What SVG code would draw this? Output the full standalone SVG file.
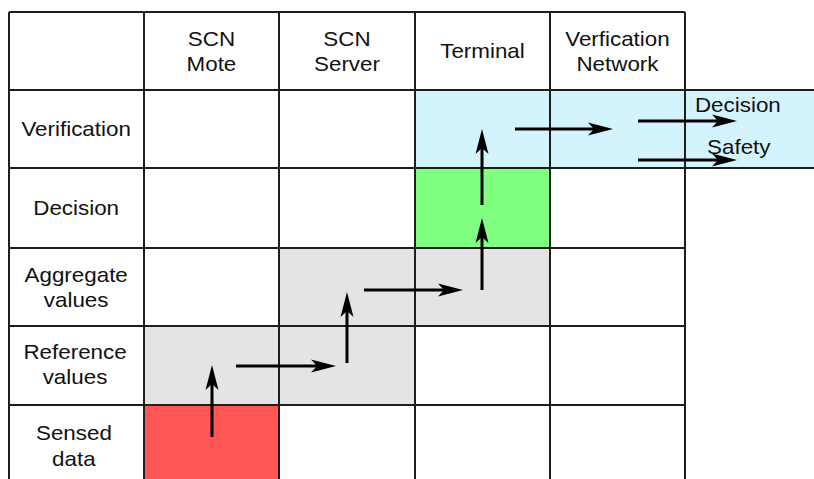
<svg xmlns="http://www.w3.org/2000/svg" width="814" height="479" viewBox="0 0 814 479">
<style>
.t{font-family:"Liberation Sans",Arial,Helvetica,sans-serif;font-size:20px;fill:#111;text-anchor:middle}
.s{text-anchor:start}
.g{stroke:#1e1e1e;stroke-width:2;fill:none}
.a{stroke:#000;stroke-width:3;fill:none;marker-end:url(#ah)}
</style>
<defs>
<marker id="ah" viewBox="-26 -8 27 16" refX="-19" refY="0" markerWidth="27" markerHeight="16" orient="auto" markerUnits="userSpaceOnUse">
<path d="M0,0 L-25,-6.5 L-19,0 L-25,6.5 Z" fill="#000"/>
</marker>
</defs>
<rect width="814" height="479" fill="#fff"/>
<g id="fills">
<rect id="verif-band" x="415" y="90" width="399" height="78" fill="#d4f4fd"/>
<rect id="decision-cell" x="415" y="168" width="135" height="80" fill="#80ff80"/>
<rect id="aggregate-cells" x="279" y="248" width="271" height="78" fill="#e4e4e4"/>
<rect id="reference-cells" x="144" y="326" width="271" height="79" fill="#e4e4e4"/>
<rect id="sensed-cell" x="144" y="405" width="135" height="80" fill="#ff5555"/>
</g>
<g id="grid" class="g">
<line x1="9" y1="12" x2="9" y2="479"/>
<line x1="144" y1="12" x2="144" y2="479"/>
<line x1="279" y1="12" x2="279" y2="479"/>
<line x1="415" y1="12" x2="415" y2="479"/>
<line x1="550" y1="12" x2="550" y2="479"/>
<line x1="685" y1="12" x2="685" y2="479"/>
<line x1="9" y1="12" x2="685" y2="12"/>
<line x1="9" y1="90" x2="814" y2="90"/>
<line x1="9" y1="168" x2="814" y2="168"/>
<line x1="9" y1="248" x2="685" y2="248"/>
<line x1="9" y1="326" x2="685" y2="326"/>
<line x1="9" y1="405" x2="685" y2="405"/>
</g>
<g id="col-headers">
<g id="h-mote"><text class="t" transform="scale(1.12 1)" x="188.8" y="46">SCN</text><text class="t" transform="scale(1.12 1)" x="188.8" y="71">Mote</text></g>
<g id="h-server"><text class="t" transform="scale(1.12 1)" x="309.8" y="46">SCN</text><text class="t" transform="scale(1.12 1)" x="309.8" y="71">Server</text></g>
<g id="h-terminal"><text class="t" transform="scale(1.12 1)" x="430.8" y="58">Terminal</text></g>
<g id="h-vnet"><text class="t" transform="scale(1.12 1)" x="551.3" y="46">Verfication</text><text class="t" transform="scale(1.12 1)" x="551.3" y="71">Network</text></g>
</g>
<g id="row-headers">
<g id="r-verif"><text class="t" transform="scale(1.12 1)" x="68" y="136">Verification</text></g>
<g id="r-decision"><text class="t" transform="scale(1.12 1)" x="68" y="215">Decision</text></g>
<g id="r-aggregate"><text class="t" transform="scale(1.12 1)" x="68" y="282">Aggregate</text><text class="t" transform="scale(1.12 1)" x="68" y="307">values</text></g>
<g id="r-reference"><text class="t" transform="scale(1.12 1)" x="67" y="359">Reference</text><text class="t" transform="scale(1.12 1)" x="67" y="384">values</text></g>
<g id="r-sensed"><text class="t" transform="scale(1.12 1)" x="66" y="440">Sensed</text><text class="t" transform="scale(1.12 1)" x="66" y="466">data</text></g>
</g>
<g id="outputs">
<g id="o-decision"><text class="t s" transform="scale(1.12 1)" x="620.5" y="112">Decision</text></g>
<g id="o-safety"><text class="t s" transform="scale(1.12 1)" x="631.3" y="154">Safety</text></g>
</g>
<g id="connectors">
<line class="a" x1="212" y1="437" x2="212" y2="384"/>
<line class="a" x1="236" y1="366" x2="317" y2="366"/>
<line class="a" x1="347" y1="363" x2="347" y2="311"/>
<line class="a" x1="364" y1="290" x2="444" y2="290"/>
<line class="a" x1="482" y1="290" x2="482" y2="237"/>
<line class="a" x1="482" y1="205" x2="482" y2="148"/>
<line class="a" x1="515" y1="129" x2="594" y2="129"/>
<line class="a" x1="638" y1="121" x2="718" y2="121"/>
<line class="a" x1="638" y1="160" x2="718" y2="160"/>
</g>
</svg>
